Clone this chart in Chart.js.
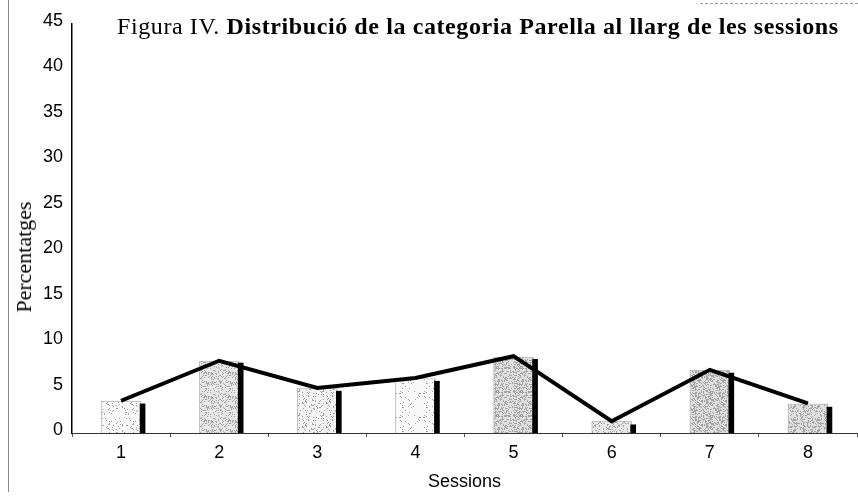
<!DOCTYPE html>
<html><head><meta charset="utf-8">
<script src="https://cdn.jsdelivr.net/npm/chart.js@4"></script>
<style>
html,body{margin:0;padding:0;background:#fff;}
#wrap{position:relative;width:858px;height:500px;overflow:hidden;background:#fff;}
#c{position:absolute;left:0;top:0;}
#title{position:absolute;left:117px;top:14px;font-family:'Liberation Serif','Times New Roman',serif;font-size:24px;line-height:24px;letter-spacing:0.6px;white-space:nowrap;color:#000;}
#title b{font-weight:bold;}
#ytitle{position:absolute;left:24px;top:257px;transform:translate(-50%,-50%) rotate(-90deg);font-family:'Liberation Serif','Times New Roman',serif;font-size:22px;line-height:24px;white-space:nowrap;color:#000;}
#frameL{position:absolute;left:8px;top:0;width:0;height:492px;border-left:1px solid #888;}
#frameT{position:absolute;left:700px;top:3px;width:158px;height:0;border-top:1px dashed #999;}
</style></head>
<body><div id="wrap"><canvas id="c" width="858" height="500"></canvas>
<div id="frameL"></div><div id="frameT"></div>
<div id="title">Figura IV. <b>Distribució de la categoria Parella al llarg de les sessions</b></div>
<div id="ytitle">Percentatges</div>
</div>
<script>
const sessions = ['1','2','3','4','5','6','7','8'];
const grayBarPct = [3.5, 7.9, 4.95, 6.0, 8.35, 1.3, 6.9, 3.2];
const blackBarPct = [3.2, 7.7, 4.6, 5.7, 8.1, 0.9, 6.6, 2.85];
const linePct = [3.55, 7.95, 4.95, 6.05, 8.45, 1.3, 6.95, 3.25];
const yMin = 0, yMax = 45, yStep = 5;

// texture styles per bar (style only)
const stippleStyles = [
  {base:'#f8f8f8', dens:0.08}, {base:'#e6e6e6', dens:0.26}, {base:'#f2f2f2', dens:0.14},
  {base:'#f9f9f9', dens:0.06}, {base:'#e0e0e0', dens:0.34}, {base:'#e8e8e8', dens:0.24},
  {base:'#dedede', dens:0.36}, {base:'#e0e0e0', dens:0.34}
];
function makeStipple(base, dens, seed) {
  const cv = document.createElement('canvas');
  cv.width = 24; cv.height = 24;
  const cx = cv.getContext('2d');
  cx.fillStyle = base; cx.fillRect(0,0,24,24);
  cx.fillStyle = '#a4a4a4';
  for (let y = 0; y < 24; y++) for (let x = 0; x < 24; x++) {
    let h = ((x+1)*73856093 ^ (y+1)*19349663 ^ (seed+3)*83492791) >>> 0;
    h = (h ^ (h >>> 13)) * 1274126177 >>> 0;
    if ((h % 1000) / 1000 < dens) cx.fillRect(x, y, 1, 1);
  }
  return cx.createPattern(cv, 'repeat');
}
const grayFills = stippleStyles.map((s, i) => makeStipple(s.base, s.dens, i));

const sansFont = "'Liberation Sans',Arial,sans-serif";

const shiftBars = {
  id: 'shiftBars',
  afterDatasetsUpdate(chart) {
    const gray = chart.getDatasetMeta(1).data;
    const black = chart.getDatasetMeta(2).data;
    black.forEach((el, i) => {
      const g = gray[i];
      el.x = g.x + g.width / 2 + el.width / 2 - 1;
    });
  }
};

new Chart(document.getElementById('c'), {
  type: 'bar',
  data: {
    labels: sessions,
    datasets: [
      { type: 'line', data: linePct, borderColor: '#000', borderWidth: 4, pointRadius: 0, tension: 0, fill: false, order: 1 },
      { data: grayBarPct, backgroundColor: grayFills, borderColor: '#bdbdbd', borderWidth: 1, borderSkipped: 'bottom', barThickness: 40, grouped: false, order: 3 },
      { data: blackBarPct, backgroundColor: '#000', barThickness: 5, grouped: false, order: 2 }
    ]
  },
  options: {
    responsive: false,
    animation: false,
    events: [],
    devicePixelRatio: 1,
    layout: { padding: { left: 0, top: 24, right: 1, bottom: 0 } },
    plugins: { legend: { display: false }, tooltip: { enabled: false }, title: { display: false } },
    scales: {
      x: {
        offset: true,
        grid: { display: true, drawOnChartArea: false, drawTicks: true, tickLength: 4, color: '#555', offset: true },
        border: { display: true, color: '#333', width: 1 },
        ticks: { color: '#000', font: { family: sansFont, size: 18 }, padding: 5 },
        title: { display: true, text: 'Sessions', color: '#000', font: { family: sansFont, size: 18 }, padding: { top: 0, bottom: 7 } },
        afterFit: (s) => { s.height = 67; }
      },
      y: {
        min: yMin, max: yMax,
        ticks: { stepSize: yStep, color: '#000', font: { family: sansFont, size: 18 }, padding: 9, labelOffset: -3 },
        grid: { display: false, drawTicks: false },
        border: { display: true, color: '#000', width: 1.5 },
        afterFit: (s) => { s.width = 72; }
      }
    }
  },
  plugins: [shiftBars]
});
</script>
</body></html>
